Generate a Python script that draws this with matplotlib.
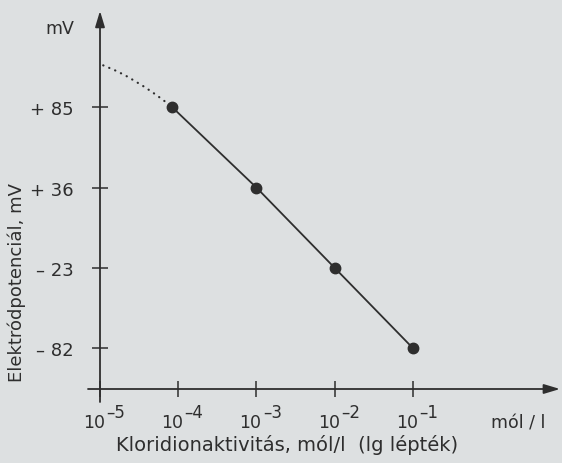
import numpy as np
import matplotlib
matplotlib.use("Agg")
import matplotlib.pyplot as plt

# chloride activity (mol/l) and electrode potential (mV), as drawn
activity = [8.4e-5, 1e-3, 1e-2, 1e-1]
potential = [85, 36, -23, -82]
pot_labels = ["+ 85", "+ 36", "– 23", "– 82"]

# dotted extrapolation towards low activity
extra_activity = [1.10e-5, 1.52e-5, 2.10e-5, 2.82e-5, 3.72e-5, 4.90e-5, 6.32e-5, 8.4e-5]
extra_potential = [110.6, 107.8, 104.5, 100.9, 97.4, 93.5, 89.7, 85]

x_ticks = [1e-5, 1e-4, 1e-3, 1e-2, 1e-1]
x_exps = ["–5", "–4", "–3", "–2", "–1"]

ink = "#2e2e2e"
paper = "#dde0e1"

# the drawing puts the labelled potentials at equal distances
lv = np.array(sorted(potential), float)
idx = np.arange(len(lv), dtype=float)


def to_pos(v):
    v = np.asarray(v, float)
    out = np.interp(v, lv, idx)
    out = np.where(v < lv[0], (v - lv[0]) / (lv[1] - lv[0]), out)
    out = np.where(v > lv[-1], idx[-1] + (v - lv[-1]) / (lv[-1] - lv[-2]), out)
    return out


def from_pos(p):
    p = np.asarray(p, float)
    out = np.interp(p, idx, lv)
    out = np.where(p < 0, lv[0] + p * (lv[1] - lv[0]), out)
    out = np.where(p > idx[-1], lv[-1] + (p - idx[-1]) * (lv[-1] - lv[-2]), out)
    return out


plt.rcParams["font.family"] = "DejaVu Sans"
fig = plt.figure(figsize=(5.62, 4.64), dpi=100, facecolor=paper)
ax = fig.add_axes([100 / 562, 74 / 464, 460 / 562, 380 / 464])
ax.set_facecolor("none")

ax.set_xscale("log")
ax.set_yscale("function", functions=(to_pos, from_pos))
ax.set_xlim(1e-5, 10 ** 0.88)
ax.set_ylim(-112, 145)

ax.plot(activity, potential, color=ink, lw=1.3, marker="o", ms=7.5,
        mfc=ink, mec=ink, clip_on=False, zorder=3)
ax.plot(extra_activity, extra_potential, color=ink, lw=1.6,
        linestyle=(0, (0.1, 2.8)), dash_capstyle="round", clip_on=False)

for s in ax.spines.values():
    s.set_visible(False)

arrow = dict(arrowstyle="-|>,head_length=0.6,head_width=0.18", color=ink,
             lw=1.3, mutation_scale=16, shrinkA=0, shrinkB=0)
ax.annotate("", xy=(1.0, 0), xytext=(-12 / 460, 0), xycoords="axes fraction",
            textcoords="axes fraction", arrowprops=arrow)
ax.annotate("", xy=(0, 0.995), xytext=(0, -13 / 380), xycoords="axes fraction",
            textcoords="axes fraction", arrowprops=arrow)

ax.set_xticks(x_ticks)
ax.set_xticklabels([])
ax.minorticks_off()
ax.set_yticks(potential)
ax.set_yticklabels(pot_labels)
ax.tick_params(axis="both", direction="inout", length=11.5, width=1.1,
               colors=ink, labelsize=13)
ax.tick_params(axis="y", pad=13)

# powers of ten written as in the drawing: "10" with a raised exponent
for xt, ex in zip(x_ticks, x_exps):
    ax.annotate("10", xy=(xt, 0), xycoords=("data", "axes fraction"),
                xytext=(3.6, -27.4), textcoords="offset points",
                ha="right", va="baseline", fontsize=12.5, color=ink)
    ax.annotate(ex, xy=(xt, 0), xycoords=("data", "axes fraction"),
                xytext=(4.6, -20.0), textcoords="offset points",
                ha="left", va="baseline", fontsize=12, color=ink)

fig.text(60 / 562, 1 - 29 / 464, "mV", ha="center", va="center",
         fontsize=12.5, color=ink)
fig.text(518 / 562, 1 - 424 / 464, "mól / l", ha="center", va="center",
         fontsize=12.5, color=ink)
fig.text(287 / 562, 1 - 445 / 464, "Kloridionaktivitás, mól/l  (lg lépték)",
         ha="center", va="center", fontsize=14, color=ink)
fig.text(17 / 562, 1 - 283 / 464, "Elektródpotenciál, mV", ha="center",
         va="center", rotation=90, fontsize=13, color=ink)

fig.savefig("out.png", dpi=100, facecolor=paper)
